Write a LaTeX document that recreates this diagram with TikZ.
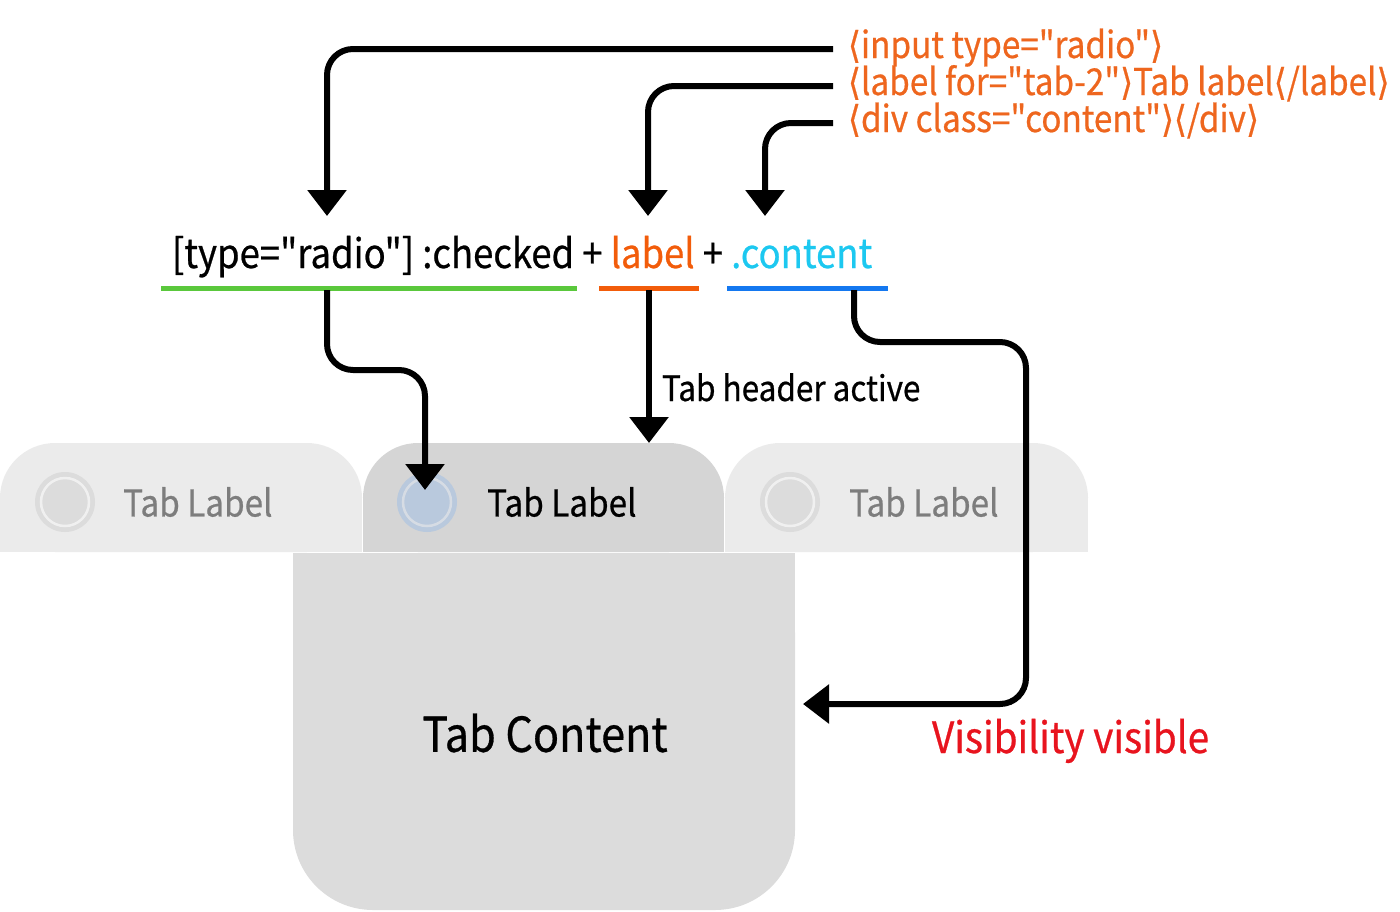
\documentclass[tikz,border=0pt]{standalone}
\usepackage{fontspec}
\setmainfont{Noto Sans CJK KR}[Ligatures=TeXOff,FakeStretch=0.9,FakeBold=0.6]
\newfontfamily\brk{DejaVu Sans}[FakeStretch=0.9,FakeBold=0.6]
\usetikzlibrary{arrows.meta}
\definecolor{codeor}{RGB}{238,102,30}
\definecolor{selor}{RGB}{242,92,10}
\definecolor{cyanc}{RGB}{28,200,240}
\definecolor{greenul}{RGB}{90,200,60}
\definecolor{blueul}{RGB}{20,120,240}
\definecolor{redv}{RGB}{232,20,30}
\definecolor{tabin}{RGB}{235,235,235}
\definecolor{tabact}{RGB}{213,213,213}
\definecolor{contentc}{RGB}{220,220,220}
\definecolor{radin}{RGB}{220,220,220}
\definecolor{radinring}{RGB}{240,240,240}
\definecolor{radact}{RGB}{185,201,221}
\definecolor{radactring}{RGB}{214,220,228}
\definecolor{labgray}{RGB}{125,125,125}
\newcommand{\fs}[1]{\fontsize{#1}{#1}\selectfont}
\newcommand{\lb}{{\brk ⟨}}
\newcommand{\rb}{{\brk ⟩}}
\begin{document}
\begin{tikzpicture}[x=1pt,y=-1pt,
  conn/.style={line width=6pt,-{Triangle[width=38pt,length=26pt]},rounded corners=26pt},
  txt/.style={inner sep=0pt,outer sep=0pt,anchor=base west},
  ul/.style={inner sep=0pt,outer sep=0pt,minimum height=5pt,fill=#1},
  radio/.style={circle,inner sep=0pt,minimum size=60pt,fill=#1},
  tablabel/.style={inner sep=0pt,anchor=west,font=\fs{37}},
  codetxt/.style={txt,text=codeor,font=\fs{37}},
]
\useasboundingbox (0,0) rectangle (1400,911);
% tabs
\fill[tabin,rounded corners=55pt] (0,443) rectangle (362,552);
\fill[tabin] (0,500) rectangle (362,552);
\fill[tabact,rounded corners=55pt] (363,443) rectangle (724,552);
\fill[tabact] (363,500) rectangle (724,552);
\fill[tabin,rounded corners=55pt] (725,443) rectangle (1088,552);
\fill[tabin] (725,500) rectangle (1088,552);
% content
\fill[contentc,rounded corners=80pt] (293,553) rectangle (795,910);
\fill[contentc] (293,553) rectangle (795,700);
% radios
\node[radio=radin] (r1) at (65,502) {};
\draw[radinring,line width=2.5pt] (r1.center) circle (24);
\node[radio=radact] (r2) at (427,502) {};
\draw[radactring,line width=2.5pt] (r2.center) circle (24);
\node[radio=radin] (r3) at (790,502) {};
\draw[radinring,line width=2.5pt] (r3.center) circle (24);
% tab labels
\node[tablabel,text=labgray] (l1) at (123,502) {Tab Label};
\node[tablabel,text=black] (l2) at (487,502) {Tab Label};
\node[tablabel,text=labgray] (l3) at (849,502) {Tab Label};
\node[inner sep=0pt,font=\fs{48}] (tc) at (545,733) {Tab Content};
% code lines
\node[codetxt] (code1) at (848,58) {\lb input type="radio"\rb};
\node[codetxt] (code2) at (848,95) {\lb label for="tab-2"\rb Tab label\lb/label\rb};
\node[codetxt] (code3) at (848,132) {\lb div class="content"\rb\lb/div\rb};
% selector
\node[txt,font=\fs{40.5}] (sel) at (172,268) {[type="radio"] :checked + \textcolor{selor}{label} + \textcolor{cyanc}{.content}};
\node[ul=greenul,minimum width=416pt] (u1) at (369,288) {};
\node[ul=selor,minimum width=100pt] (u2) at (649,288) {};
\node[ul=blueul,minimum width=161pt] (u3) at (807.5,288) {};
% labels
\node[txt,font=\fs{35}] (tha) at (662,401) {Tab header active};
\node[txt,font=\fs{43},text=redv] (vis) at (932,753) {Visibility visible};
% coordinates
\coordinate (c1) at (833,49);
\coordinate (c2) at (833,86);
\coordinate (c3) at (833,123);
\coordinate (t1) at (327,216);
\coordinate (t2) at (648,216);
\coordinate (t3) at (765,216);
\coordinate (a1) at (327,290);
\coordinate (a2) at (649,290);
\coordinate (a3) at (854,290);
\coordinate (e1) at (425,490);
\coordinate (e2) at (649,443);
\coordinate (e3) at (803,704);
% connectors
\draw[conn] (c1) -| (t1);
\draw[conn] (c2) -| (t2);
\draw[conn] (c3) -| (t3);
\draw[conn] (a1) -- (327,370) -- (425,370) -- (e1);
\draw[conn] (a2) -- (e2);
\draw[conn] (a3) -- (854,342) -- (1026,342) -- (1026,704) -- (e3);
\end{tikzpicture}
\end{document}
